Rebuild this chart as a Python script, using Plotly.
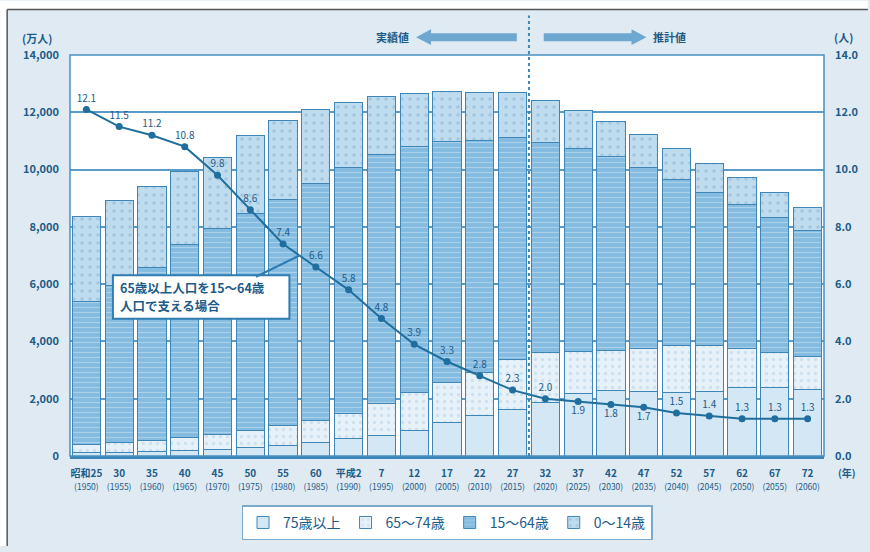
import plotly.graph_objects as go

# ---------------- data ----------------
wareki = ["昭和25", "30", "35", "40", "45", "50", "55", "60", "平成2", "7", "12", "17",
          "22", "27", "32", "37", "42", "47", "52", "57", "62", "67", "72"]
years = [1950, 1955, 1960, 1965, 1970, 1975, 1980, 1985, 1990, 1995, 2000, 2005,
         2010, 2015, 2020, 2025, 2030, 2035, 2040, 2045, 2050, 2055, 2060]

age75plus = [107, 138, 163, 189, 224, 284, 366, 471, 597, 717, 900, 1160,
             1407, 1632, 1879, 2179, 2278, 2245, 2223, 2257, 2385, 2401, 2336]
age65_74 = [309, 337, 384, 443, 517, 602, 699, 776, 892, 1109, 1301, 1407,
            1517, 1752, 1733, 1479, 1407, 1496, 1645, 1600, 1383, 1225, 1128]
age15_64 = [4966, 5473, 6047, 6744, 7212, 7581, 7883, 8251, 8590, 8716, 8622, 8409,
            8103, 7728, 7341, 7085, 6773, 6343, 5787, 5353, 5001, 4706, 4418]
age0_14 = [2979, 2980, 2807, 2553, 2482, 2722, 2751, 2603, 2249, 2001, 1847, 1752,
           1680, 1595, 1457, 1324, 1204, 1129, 1073, 1012, 939, 861, 791]
support_ratio = [12.1, 11.5, 11.2, 10.8, 9.8, 8.6, 7.4, 6.6, 5.8, 4.8, 3.9, 3.3,
                 2.8, 2.3, 2.0, 1.9, 1.8, 1.7, 1.5, 1.4, 1.3, 1.3, 1.3]
below_labels = [1.9, 1.8, 1.7]

series_names = ["75歳以上", "65～74歳", "15～64歳", "0～14歳"]
callout_lines = ["65歳以上人口を15～64歳", "人口で支える場合"]

categories = [f"<b>{w}</b><br><span style='font-size:8.5px'>({y})</span>"
              for w, y in zip(wareki, years)]

# ---------------- style ----------------
FONT = "Noto Sans CJK JP, Noto Sans, sans-serif"
TXT = "#1d5b88"
AX = "#4a90c2"
W, H = 870, 552
L, R, T, B = 70, 44, 55, 91
PW, PH = W - L - R, H - T - B


def px(x):
    return (x - L) / PW


def py(y):
    return (H - B - y) / PH


fig = go.Figure()

styles = [
    dict(color="#d3e7f5", pattern=None),
    dict(color="#e6f1f9", pattern=dict(shape=".", fgcolor="#b3d0e6", bgcolor="#e6f1f9", size=7, solidity=0.18)),
    dict(color="#84bbe0", pattern=dict(shape="-", fgcolor="#cfe5f4", bgcolor="#84bbe0", size=5, solidity=0.22)),
    dict(color="#bcd9ed", pattern=dict(shape=".", fgcolor="#86b3d4", bgcolor="#bfdbee", size=8, solidity=0.16)),
]
for name, vals, st in zip(series_names, [age75plus, age65_74, age15_64, age0_14], styles):
    marker = dict(color=st["color"], line=dict(color="#3f86b8", width=1))
    if st["pattern"]:
        marker["pattern"] = st["pattern"]
    fig.add_trace(go.Bar(x=categories, y=vals, name=name, marker=marker,
                         hoverinfo="skip"))

positions = ["bottom center" if v in below_labels and i >= 15 else "top center"
             for i, v in enumerate(support_ratio)]
fig.add_trace(go.Scatter(
    x=categories, y=support_ratio, yaxis="y2", mode="lines+markers+text",
    text=[f"{v:.1f}" for v in support_ratio], textposition=positions,
    textfont=dict(size=10, color=TXT, family=FONT),
    line=dict(color="#1f6e9e", width=2), marker=dict(size=7, color="#1f6e9e"),
    showlegend=False, cliponaxis=False))

shapes = [
    # white outer strips and dark frame
    dict(type="rect", xref="paper", yref="paper", x0=px(0), x1=px(W), y0=py(0), y1=py(9),
         fillcolor="white", line=dict(width=0), layer="below"),
    dict(type="rect", xref="paper", yref="paper", x0=px(0), x1=px(7), y0=py(H), y1=py(0),
         fillcolor="white", line=dict(width=0), layer="below"),
    dict(type="line", xref="paper", yref="paper", x0=px(7), x1=px(W), y0=py(9), y1=py(9),
         line=dict(color="#555555", width=1.5)),
    dict(type="line", xref="paper", yref="paper", x0=px(7), x1=px(7), y0=py(9), y1=py(H),
         line=dict(color="#555555", width=1.5)),
    # plot frame
    dict(type="rect", xref="paper", yref="paper", x0=0, x1=1, y0=0, y1=1,
         line=dict(color=AX, width=1.5), layer="above"),
    # divider actual / projected
    dict(type="line", xref="x", yref="paper", x0=13.5, x1=13.5, y0=0, y1=py(15),
         line=dict(color="#3f86b8", width=2, dash="dot")),
    # left arrow (実績値)
    dict(type="path", xref="paper", yref="paper",
         path=(f"M {px(518)},{py(33)} L {px(432)},{py(33)} L {px(432)},{py(29)} "
               f"L {px(417)},{py(37)} L {px(432)},{py(45)} L {px(432)},{py(41)} "
               f"L {px(518)},{py(41)} Z"),
         fillcolor="#6ea8d0", line=dict(width=0)),
    # right arrow (推計値)
    dict(type="path", xref="paper", yref="paper",
         path=(f"M {px(545)},{py(33)} L {px(633)},{py(33)} L {px(633)},{py(29)} "
               f"L {px(648)},{py(37)} L {px(633)},{py(45)} L {px(633)},{py(41)} "
               f"L {px(545)},{py(41)} Z"),
         fillcolor="#6ea8d0", line=dict(width=0)),
    # callout box
    dict(type="rect", xref="paper", yref="paper", x0=px(113), x1=px(290),
         y0=py(322), y1=py(278), fillcolor="white",
         line=dict(color="#2f7cb2", width=2), layer="above"),
]


def label(text, x, y, size=11, xanchor="center", bold=True, pad=1):
    return dict(text=f"<b>{text}</b>" if bold else text, xref="paper", yref="paper",
                x=px(x), y=py(y), xanchor=xanchor, yanchor="middle", showarrow=False,
                borderpad=pad, font=dict(size=size, color=TXT, family=FONT))


annotations = [
    label("実績値", 393, 37),
    label("推計値", 671, 37),
    label("(万人)", 37, 38),
    label("(人)", 846, 37),
    label("(年)", 849, 478, 10),
    # pointer from callout box to the line
    dict(text="", x=6.5, y=7.0, xref="x", yref="y2", ax=-45, ay=22,
         showarrow=True, arrowhead=0, arrowcolor="#2f7cb2", arrowwidth=2),
    label(callout_lines[0], 119, 290, 12.5, "left", pad=0),
    label(callout_lines[1], 119, 309, 12.5, "left", pad=0),
]

fig.update_layout(
    width=W, height=H, margin=dict(l=L, r=R, t=T, b=B),
    paper_bgcolor="#dfeaf2", plot_bgcolor="white",
    barmode="stack", bargap=0.14,
    font=dict(family=FONT, color=TXT),
    xaxis=dict(type="category", range=[-0.5, 22.5], showline=True, linecolor="#3f86b8",
               linewidth=3, ticks="", showgrid=False, ticklabelstandoff=6,
               tickfont=dict(size=10, color=TXT, family=FONT)),
    yaxis=dict(range=[0, 14000], dtick=2000, tickformat=",", showgrid=True,
               gridcolor="#5b9bc9", gridwidth=1.5, showline=False, zeroline=False,
               ticks="", ticklabelstandoff=10,
               tickfont=dict(size=11, color=TXT, family=FONT, weight="bold")),
    yaxis2=dict(range=[0, 14], dtick=2, tickformat=".1f", overlaying="y", side="right",
                showgrid=False, zeroline=False, showline=False, ticks="",
                ticklabelstandoff=10,
                tickfont=dict(size=11, color=TXT, family=FONT, weight="bold")),
    legend=dict(orientation="h", x=0.5, xanchor="center", y=py(511), yanchor="top",
                bgcolor="white", bordercolor="#7aa9cc", borderwidth=1.5,
                font=dict(size=14, color=TXT, family=FONT), traceorder="normal",
                itemwidth=30),
    shapes=shapes, annotations=annotations,
)

fig.write_html("out.html")
